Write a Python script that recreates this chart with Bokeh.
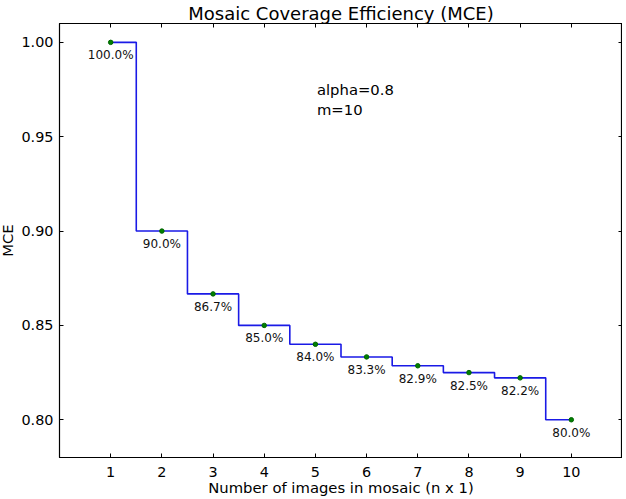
from bokeh.plotting import figure
from bokeh.models import (ColumnDataSource, FixedTicker, LinearAxis, Range1d, Title,
                          NumeralTickFormatter)
from bokeh.core.properties import value
from bokeh.embed import file_html
from bokeh.resources import INLINE

# ---- data ----
n_images = [1, 2, 3, 4, 5, 6, 7, 8, 9, 10]
mce = [1.0, 0.9, 0.8667, 0.85, 0.84, 0.8333, 0.8286, 0.825, 0.8222, 0.8]
pct_labels = ["100.0%", "90.0%", "86.7%", "85.0%", "84.0%", "83.3%", "82.9%", "82.5%", "82.2%", "80.0%"]
x_ticks = [1, 2, 3, 4, 5, 6, 7, 8, 9, 10]
y_ticks = [0.80, 0.85, 0.90, 0.95, 1.00]
annotation = "alpha=0.8\nm=10"

FONT = "DejaVu Sans"

src = ColumnDataSource(dict(x=n_images, y=mce, lab=pct_labels))

p = figure(width=626, height=499, output_backend="svg", toolbar_location=None,
           x_range=Range1d(0, 11), y_range=Range1d(0.78, 1.01),
           min_border_left=59, min_border_right=0, min_border_top=21, min_border_bottom=42,
           background_fill_color="white", border_fill_color="white")
p.styles = {"margin": "0px -8px -8px -4px"}

p.title = Title(text="Mosaic Coverage Efficiency (MCE)", align="center",
                text_font=FONT, text_font_size="18px", text_font_style="normal",
                text_color="black", standoff=0, offset=0, text_line_height=1.0)

p.outline_line_color = "black"
p.outline_line_width = 1.2
p.xgrid.visible = False
p.ygrid.visible = False

def style_axis(ax, show_labels=True, ticks=None):
    ax.major_tick_in = 4
    ax.major_tick_out = 0
    ax.minor_tick_line_color = None
    ax.axis_line_color = "black"
    ax.major_tick_line_color = "black"
    ax.major_label_text_font = FONT
    ax.major_label_text_color = "black"
    ax.axis_label_text_font = FONT
    ax.axis_label_text_font_style = "normal"
    ax.axis_label_text_color = "black"
    if show_labels:
        ax.major_label_text_font_size = "14.4px"
        ax.axis_label_text_font_size = "14.8px"
    else:
        ax.major_label_text_font_size = "1px"
        ax.major_label_text_color = None
        ax.major_label_standoff = 0
        ax.axis_label = None
        ax.axis_label_standoff = 0
        ax.major_label_overrides = {t: "" for t in ticks}

xa = p.xaxis[0]
ya = p.yaxis[0]
xa.ticker = FixedTicker(ticks=x_ticks)
ya.ticker = FixedTicker(ticks=y_ticks)
ya.formatter = NumeralTickFormatter(format="0.00")
xa.axis_label = "Number of images in mosaic (n x 1)"
ya.axis_label = "MCE"
style_axis(xa)
style_axis(ya)
xa.major_label_standoff = 9
xa.axis_label_standoff = -1
ya.major_label_standoff = 6
ya.axis_label_standoff = 2

top_ax = LinearAxis(ticker=FixedTicker(ticks=x_ticks))
right_ax = LinearAxis(ticker=FixedTicker(ticks=y_ticks))
style_axis(top_ax, show_labels=False, ticks=x_ticks)
style_axis(right_ax, show_labels=False, ticks=y_ticks)
p.add_layout(top_ax, "above")
p.add_layout(right_ax, "right")

p.step("x", "y", source=src, mode="center", line_color="#1a1ae6", line_width=1.6)
p.scatter("x", "y", source=src, size=4.5, fill_color="#008000", line_color="#006400")
p.text("x", "y", text="lab", source=src, text_font=value(FONT), text_font_size="12px",
       text_align="center", text_baseline="top", y_offset=6, text_color="#111111")

ann_x = [5.03]
ann_y = [0.9796]
p.text(x=ann_x, y=ann_y, text=[annotation], text_font=value(FONT), text_font_size="14.8px",
       text_align="left", text_baseline="top", text_color="black", text_line_height=1.16)

open("out.html", "w").write(file_html(p, INLINE))
